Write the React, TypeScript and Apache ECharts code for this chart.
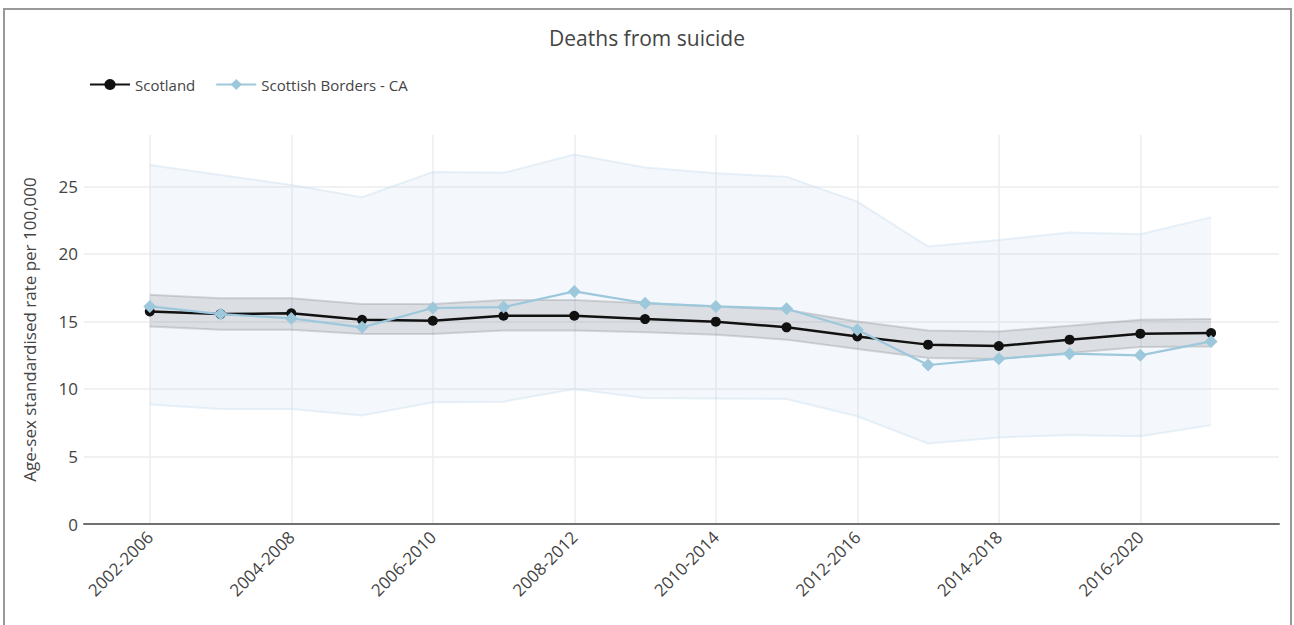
import React, { useEffect, useRef } from "react";
import * as echarts from "echarts";

const categories = [
  "2002-2006", "2003-2007", "2004-2008", "2005-2009", "2006-2010", "2007-2011",
  "2008-2012", "2009-2013", "2010-2014", "2011-2015", "2012-2016", "2013-2017",
  "2014-2018", "2015-2019", "2016-2020", "2017-2021",
];
const scotland = [15.74, 15.54, 15.6, 15.12, 15.05, 15.42, 15.42, 15.17, 14.98, 14.56, 13.89, 13.28, 13.18, 13.65, 14.09, 14.14];
const scotlandLower = [14.63, 14.38, 14.38, 14.06, 14.06, 14.33, 14.33, 14.19, 14.01, 13.65, 12.96, 12.29, 12.22, 12.66, 13.1, 13.15];
const scotlandUpper = [16.97, 16.72, 16.72, 16.28, 16.28, 16.58, 16.58, 16.35, 16.11, 15.86, 15.0, 14.33, 14.26, 14.68, 15.12, 15.17];
const borders = [16.11, 15.54, 15.22, 14.56, 15.99, 16.06, 17.22, 16.35, 16.11, 15.94, 14.38, 11.77, 12.24, 12.61, 12.49, 13.52];
const bordersLower = [8.84, 8.52, 8.52, 8.03, 9.01, 9.06, 10.0, 9.33, 9.29, 9.26, 7.98, 5.96, 6.41, 6.58, 6.5, 7.32];
const bordersUpper = [26.58, 25.84, 25.1, 24.19, 26.06, 26.0, 27.36, 26.4, 25.97, 25.7, 23.87, 20.54, 21.03, 21.58, 21.45, 22.7];
const xTickIdx = [0, 2, 4, 6, 8, 10, 12, 14];
const yTicks = [0, 5, 10, 15, 20, 25];

const FONT = "'Open Sans', sans-serif";

function bandSeries(name: string, lower: number[], upper: number[], fill: string, edge: string, z: number) {
  return {
    name,
    type: "custom",
    silent: true,
    z,
    data: lower.map((v, i) => [i, v, upper[i]]),
    encode: { x: 0, y: [1, 2] },
    renderItem: (params: any, api: any) => {
      if (params.dataIndex !== 0) return null;
      const lo = lower.map((v, i) => api.coord([i, v]));
      const up = upper.map((v, i) => api.coord([i, v]));
      const poly = lo.concat(up.slice().reverse());
      return {
        type: "group",
        children: [
          { type: "polygon", shape: { points: poly }, style: { fill, stroke: "none" } },
          { type: "polyline", shape: { points: lo }, style: { fill: "none", stroke: edge, lineWidth: 2 } },
          { type: "polyline", shape: { points: up }, style: { fill: "none", stroke: edge, lineWidth: 2 } },
        ],
      };
    },
  };
}

export default function App() {
  const ref = useRef<HTMLDivElement>(null);
  useEffect(() => {
    document.body.style.margin = "0";
    if (!ref.current) return;
    const chart = echarts.init(ref.current, null, { renderer: "svg" });
    const pts = (arr: number[]) => arr.map((v, i) => [i, v]);
    chart.setOption({
      animation: false,
      textStyle: { fontFamily: FONT },
      title: {
        text: "Deaths from suicide",
        left: "center",
        top: 22,
        textStyle: { fontSize: 21, fontWeight: "normal", color: "#444", fontFamily: FONT },
      },
      legend: {
        left: 84,
        top: 72,
        itemWidth: 40,
        itemHeight: 14,
        itemGap: 20,
        data: ["Scotland", "Scottish Borders - CA"],
        textStyle: { fontSize: 15, color: "#444", fontFamily: FONT },
      },
      graphic: [
        {
          type: "rect",
          shape: { x: 4, y: 9, width: 1287, height: 700 },
          style: { fill: "none", stroke: "#999", lineWidth: 2 },
          silent: true,
        },
      ],
      grid: { left: 84, right: 15, top: 135, bottom: 101 },
      xAxis: {
        type: "value",
        min: -0.93,
        max: 15.96,
        axisLine: { show: true, onZero: false, lineStyle: { color: "#707070", width: 2 } },
        axisTick: { show: false, customValues: xTickIdx },
        axisLabel: {
          customValues: xTickIdx,
          rotate: 45,
          margin: 10,
          fontSize: 17,
          color: "#444",
          fontFamily: FONT,
          formatter: (v: number) => categories[Math.round(v)] ?? "",
        },
        splitLine: { show: true, lineStyle: { color: "#ebedef", width: 1.5 } },
      },
      yAxis: {
        type: "value",
        min: 0,
        max: 28.8,
        name: "Age-sex standardised rate per 100,000",
        nameLocation: "middle",
        nameGap: 46,
        nameTextStyle: { fontSize: 17, color: "#444", fontFamily: FONT },
        axisLine: { show: false },
        axisTick: { show: false, customValues: yTicks },
        axisLabel: { customValues: yTicks, fontSize: 17, color: "#444", fontFamily: FONT, margin: 6 },
        splitLine: { show: true, lineStyle: { color: "#ebedef", width: 1.5 } },
      },
      series: [
        bandSeries("bordersBand", bordersLower, bordersUpper, "rgba(200,220,238,0.2)", "rgba(200,220,238,0.4)", 1),
        bandSeries("scotlandBand", scotlandLower, scotlandUpper, "rgba(120,124,128,0.2)", "rgba(110,112,115,0.25)", 2),
        {
          name: "Scotland",
          type: "line",
          data: pts(scotland),
          symbol: "circle",
          symbolSize: 10,
          itemStyle: { color: "#111" },
          lineStyle: { color: "#111", width: 2.5 },
          z: 3,
        },
        {
          name: "Scottish Borders - CA",
          type: "line",
          data: pts(borders),
          symbol: "diamond",
          symbolSize: 13,
          itemStyle: { color: "#9dc8dc" },
          lineStyle: { color: "#9dc8dc", width: 2.2 },
          z: 4,
        },
      ],
    });
    return () => chart.dispose();
  }, []);
  return <div ref={ref} style={{ width: 1294, height: 625 }} />;
}
